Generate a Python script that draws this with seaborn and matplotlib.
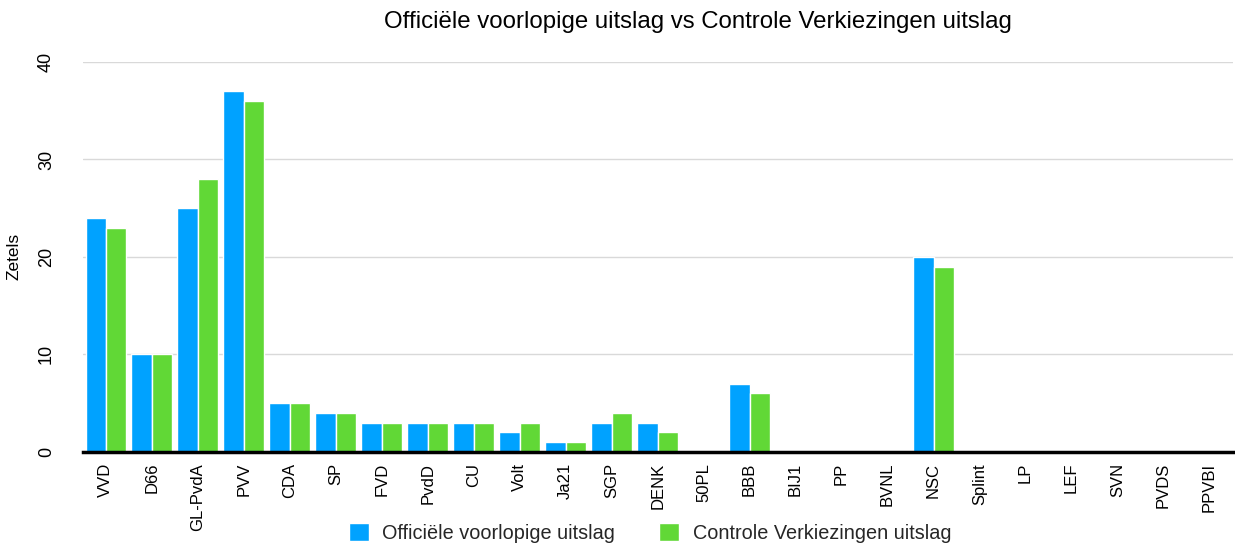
import matplotlib
matplotlib.use("Agg")
import matplotlib.pyplot as plt
import seaborn as sns
import pandas as pd

parties = ["VVD", "D66", "GL-PvdA", "PVV", "CDA", "SP", "FVD", "PvdD", "CU", "Volt",
           "Ja21", "SGP", "DENK", "50PL", "BBB", "BIJ1", "PP", "BVNL", "NSC", "Splint",
           "LP", "LEF", "SVN", "PVDS", "PPVBI"]
officieel = [24, 10, 25, 37, 5, 4, 3, 3, 3, 2, 1, 3, 3, 0, 7, 0, 0, 0, 20, 0, 0, 0, 0, 0, 0]
controle = [23, 10, 28, 36, 5, 4, 3, 3, 3, 3, 1, 4, 2, 0, 6, 0, 0, 0, 19, 0, 0, 0, 0, 0, 0]
series = ["Officiële voorlopige uitslag", "Controle Verkiezingen uitslag"]
colors = ["#00A2FF", "#61D836"]

df = pd.DataFrame({
    "Partij": parties * 2,
    "Zetels": officieel + controle,
    "Serie": [series[0]] * len(parties) + [series[1]] * len(parties),
})

sns.set_theme(style="white")
plt.rcParams["font.family"] = ["Liberation Sans", "DejaVu Sans"]

fig = plt.figure(figsize=(12.35, 5.49), dpi=100)
ax = fig.add_axes([0.067, 0.177, 0.931, 0.71])

sns.barplot(data=df, x="Partij", y="Zetels", hue="Serie", palette=colors,
            width=0.88, edgecolor="white", linewidth=1, saturation=1, ax=ax)

ax.set_ylim(0, 40)
ax.set_xlim(-0.5, len(parties) - 0.5)
ax.set_yticks([0, 10, 20, 30, 40])
ax.yaxis.grid(True, color="#d9d9d9", linewidth=1)
ax.set_axisbelow(True)
for s in ["top", "right", "left"]:
    ax.spines[s].set_visible(False)
ax.spines["bottom"].set_color("black")
ax.spines["bottom"].set_linewidth(2.5)
ax.tick_params(axis="both", length=0)
ax.tick_params(axis="x", labelsize=12, rotation=90, pad=8, colors="black")
ax.tick_params(axis="y", labelsize=13, pad=20, colors="black")
for lbl in ax.get_yticklabels():
    lbl.set_rotation(90)
    lbl.set_va("center")
ax.set_xlabel("")
ax.set_ylabel("Zetels", fontsize=12.5, labelpad=12, color="black")

fig.text(698 / 1235, 1 - 22 / 549,
         "Officiële voorlopige uitslag vs Controle Verkiezingen uitslag",
         fontsize=17.3, color="black", ha="center", va="center")

handles, labels = ax.get_legend_handles_labels()
ax.get_legend().remove()
fig.legend(handles, labels, loc="lower center", bbox_to_anchor=(650 / 1235, -0.01), ncol=2,
           frameon=False, fontsize=14.3, handlelength=1.0, handleheight=1.0,
           columnspacing=2.2, borderpad=0.1, handletextpad=0.7)

fig.savefig("out.png", dpi=100)
